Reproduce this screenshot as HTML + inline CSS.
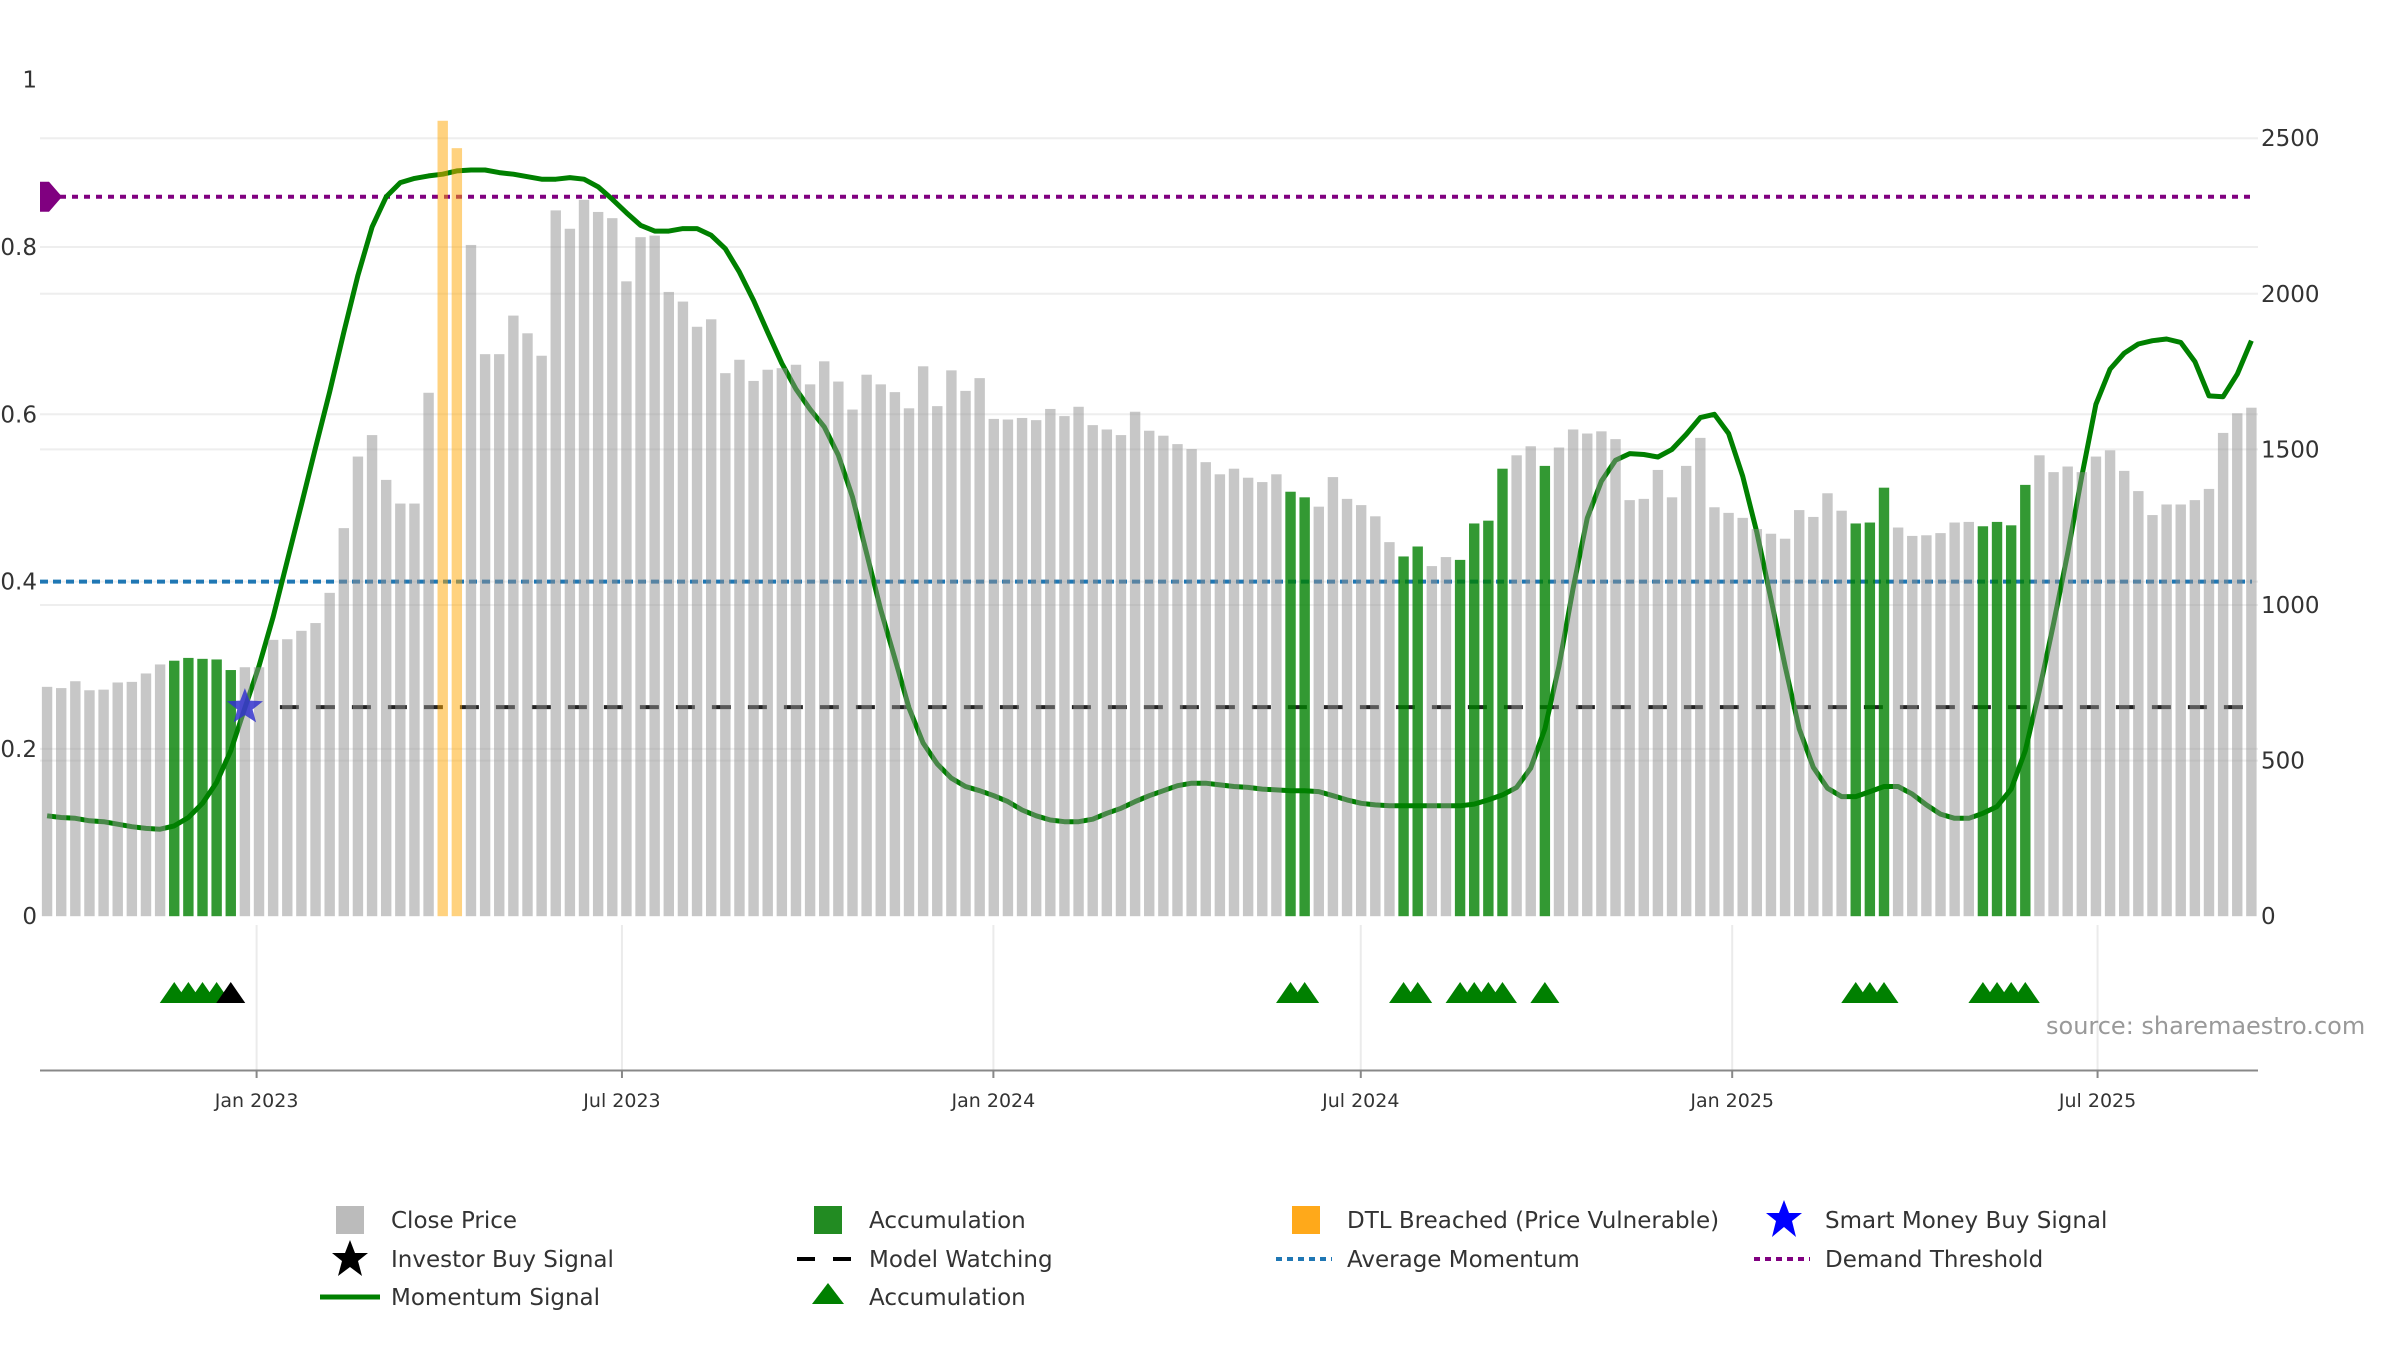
<!DOCTYPE html>
<html><head><meta charset="utf-8"><style>
html,body{margin:0;padding:0;background:#fff;}
svg{display:block;font-family:"DejaVu Sans","Liberation Sans",sans-serif;}
</style></head><body>
<svg id="chart" xmlns="http://www.w3.org/2000/svg" width="2400" height="1350" viewBox="0 0 2400 1350">
<g id="grid"></g>
<g id="refl"></g>
<g id="mom"></g>
<g id="bars"></g>
<g id="marks"></g>
<g id="axes"></g>
<text x="2046" y="1034" font-size="24" fill="#999">source: sharemaestro.com</text>
<g id="legend" font-size="23" fill="#333">
  <rect x="336" y="1206" width="28" height="28" fill="#bbb"/>
  <text x="391" y="1228">Close Price</text>
  <polygon points="350,1240 355,1253 368,1253 358,1261 362,1276 350,1267 338,1276 342,1261 332,1253 345,1253" fill="#000"/>
  <text x="391" y="1267">Investor Buy Signal</text>
  <line x1="320" y1="1297" x2="380" y2="1297" stroke="#008000" stroke-width="5"/>
  <text x="391" y="1305">Momentum Signal</text>
  <rect x="814" y="1206" width="28" height="28" fill="#228b22"/>
  <text x="869" y="1228">Accumulation</text>
  <line x1="797" y1="1259" x2="852" y2="1259" stroke="#000" stroke-width="4" stroke-dasharray="18,18"/>
  <text x="869" y="1267">Model Watching</text>
  <polygon points="828,1283 844,1304 812,1304" fill="#008000"/>
  <text x="869" y="1305">Accumulation</text>
  <rect x="1292" y="1206" width="28" height="28" fill="#ffa91a"/>
  <text x="1347" y="1228">DTL Breached (Price Vulnerable)</text>
  <line x1="1276" y1="1259" x2="1332" y2="1259" stroke="#1f77b4" stroke-width="4" stroke-dasharray="6,5"/>
  <text x="1347" y="1267">Average Momentum</text>
  <polygon points="1784,1200 1789,1213 1802,1213 1792,1221 1796,1237 1784,1227 1772,1237 1776,1221 1766,1213 1779,1213" fill="#0000ff"/>
  <text x="1825" y="1228">Smart Money Buy Signal</text>
  <line x1="1754" y1="1259" x2="1810" y2="1259" stroke="#800080" stroke-width="4" stroke-dasharray="6,5"/>
  <text x="1825" y="1267">Demand Threshold</text>
</g>
</svg>
<script>
const prices = [737,733,755,726,728,751,753,780,809,821,830,827,825,791,800,800,888,890,917,942,1039,1247,1477,1546,1402,1326,1326,1682,2556,2468,2157,1806,1806,1930,1873,1801,2268,2209,2302,2263,2243,2040,2182,2187,2006,1975,1894,1918,1745,1788,1720,1756,1761,1772,
1709,1783,1718,1628,1740,1709,1684,1632,1767,1639,1754,1688,1729,1598,1596,1601,1594,1630,1607,1637,1578,1564,1546,1621,1560,1544,1517,1501,1459,1420,1438,1409,1395,1420,1364,1346,1316,1411,1341,1321,1285,1202,1156,1188,1125,1154,1145,1262,1271,1438,1481,1510,1447,1506,1564,1551,1558,1533,
1337,1341,1434,1346,1447,1537,1314,1296,1280,1244,1229,1213,1305,1283,1359,1303,1262,1265,1377,1249,1222,1224,1231,1265,1267,1253,1267,1256,1386,1481,1427,1445,1427,1477,1497,1431,1366,1289,1323,1323,1337,1373,1553,1616,1634];
const momentum = [.120,.118,.117,.114,.113,.110,.107,.105,.104,.108,.118,.135,.160,.198,.249,.299,.358,.425,.492,.560,.627,.698,.766,.824,.860,.877,.882,.885,.887,.891,.892,.892,.889,.887,.884,.881,.881,.883,.881,.872,.857,.841,.826,.819,.819,.822,.822,.814,.798,.770,.736,.698,.661,.630,
.606,.585,.551,.501,.434,.366,.308,.249,.207,.182,.165,.155,.150,.144,.137,.127,.120,.115,.113,.113,.116,.123,.129,.137,.144,.150,.156,.159,.159,.157,.155,.154,.152,.151,.150,.150,.149,.144,.139,.135,.133,.132,.132,.132,.132,.132,.132,.134,.139,.145,.154,.177,.224,.299,.392,.476,.520,.545,
.553,.552,.549,.558,.576,.596,.600,.577,.526,.459,.379,.299,.224,.178,.153,.143,.143,.149,.155,.155,.146,.133,.122,.117,.117,.123,.131,.152,.198,.270,.350,.434,.526,.612,.654,.673,.684,.688,.690,.686,.663,.622,.621,.648,.688];
const accumulationWeeks = [10,11,12,13,14,89,90,97,98,101,102,103,104,107,129,130,131,138,139,140,141];
const dtlWeeks = [29,30];
const triangleGreenWeeks = [10,11,12,13,89,90,97,98,101,102,103,104,107,129,130,131,138,139,140,141];
const triangleBlackWeeks = [14];
const smartMoneyWeek = 15;
const smartMoneyValue = 0.25;
const demandThreshold = 0.86;
const averageMomentum = 0.4;
const modelWatching = 0.25;
const leftTicks = [0,0.2,0.4,0.6,0.8,1];
const leftTickLabels = ["0","0.2","0.4","0.6","0.8","1"];
const rightTicks = [0,500,1000,1500,2000,2500];
const dateTicks = ["2023-01-01","2023-07-01","2024-01-01","2024-07-01","2025-01-01","2025-07-01"];
const dateTickLabels = ["Jan 2023","Jul 2023","Jan 2024","Jul 2024","Jan 2025","Jul 2025"];
const firstWeekOffsetDays = -103.8;

const NS="http://www.w3.org/2000/svg";
const X0=40, X1=2258, Y0=916.2;
function xDay(d){return 256.6 + d*2.0186;}
function xWeek(w){return xDay(firstWeekOffsetDays + (w-1)*7);}
function xDate(s){const d=(Date.parse(s)-Date.parse("2023-01-01"))/86400000;return xDay(d);}
function yL(v){return Y0 - v*836.5;}
function yR(p){return Y0 - p*778/2500;}
function mk(tag,parent,attrs){const e=document.createElementNS(NS,tag);for(const k in attrs)e.setAttribute(k,attrs[k]);parent.appendChild(e);return e;}

const grid=document.getElementById('grid');
rightTicks.slice(1).forEach(t=>{const l=mk('line',grid,{x1:X0,x2:X1,y1:yR(t),y2:yR(t),stroke:'#eeeeee','stroke-width':2});

});
leftTicks.slice(1,5).forEach(t=>{const l=mk('line',grid,{x1:X0,x2:X1,y1:yL(t),y2:yL(t),stroke:'#eeeeee','stroke-width':2});

});
dateTicks.forEach(d=>{const l=mk('line',grid,{x1:xDate(d),x2:xDate(d),y1:925,y2:1070,stroke:'#ebebeb','stroke-width':2});

});

const refl=document.getElementById('refl');
let l1=mk('line',refl,{x1:X0+8,x2:X1-6,y1:yL(demandThreshold),y2:yL(demandThreshold),stroke:'#800080','stroke-width':4,'stroke-dasharray':'6,6'});


let l2=mk('line',refl,{x1:X0,x2:X1-6,y1:yL(averageMomentum),y2:yL(averageMomentum),stroke:'#1f77b4','stroke-width':4,'stroke-dasharray':'8,5'});


let l3=mk('line',refl,{x1:xWeek(smartMoneyWeek)+35,x2:X1-10,y1:yL(modelWatching),y2:yL(modelWatching),stroke:'#222','stroke-width':4,'stroke-dasharray':'19,17'});


let dm=mk('polygon',refl,{points:`${X0},${yL(demandThreshold)-15} ${X0+9},${yL(demandThreshold)-15} ${X0+22},${yL(demandThreshold)} ${X0+9},${yL(demandThreshold)+15} ${X0},${yL(demandThreshold)+15}`,fill:'#800080'});



const mom=document.getElementById('mom');
let pts=momentum.map((v,i)=>xWeek(i+1).toFixed(1)+','+yL(v).toFixed(1)).join(' ');
let ml=mk('polyline',mom,{points:pts,fill:'none',stroke:'#008000','stroke-width':5,'stroke-linejoin':'round'});



const bars=document.getElementById('bars');
prices.forEach((p,i)=>{const w=i+1;let fill='#8f8f8f',op=0.5,name='close-price-bar';
if(accumulationWeeks.includes(w)){fill='#008000';op=0.8;name='accumulation-bar';}
if(dtlWeeks.includes(w)){fill='#ffa500';op=0.5;name='dtl-breached-bar';}
const r=mk('rect',bars,{x:xWeek(w)-5.2,y:yR(p),width:10.4,height:Y0-yR(p),fill:fill,'fill-opacity':op});

});

const marks=document.getElementById('marks');
function tri(w,color,name){const cx=xWeek(w);const t=mk('polygon',marks,{points:`${cx},982 ${cx+14.5},1003 ${cx-14.5},1003`,fill:color});

}
triangleGreenWeeks.forEach(w=>tri(w,'#008000','accumulation-triangle'));
triangleBlackWeeks.forEach(w=>tri(w,'#000','investor-buy-triangle'));
function starPts(cx,cy,R,r){let s=[];for(let k=0;k<10;k++){const a=-Math.PI/2+k*Math.PI/5;const rr=k%2?r:R;s.push((cx+rr*Math.cos(a)).toFixed(1)+','+(cy+rr*Math.sin(a)).toFixed(1));}return s.join(' ');}
let st=mk('polygon',marks,{points:starPts(xWeek(smartMoneyWeek),yL(smartMoneyValue),19,8),fill:'#3333cc','fill-opacity':0.85});



const axes=document.getElementById('axes');
let ax=mk('line',axes,{x1:X0,x2:X1,y1:1070.5,y2:1070.5,stroke:'#888','stroke-width':2});


dateTicks.forEach((d,i)=>{const x=xDate(d);
const tk=mk('line',axes,{x1:x,x2:x,y1:1070,y2:1078,stroke:'#888','stroke-width':2});


const t=mk('text',axes,{x:x,y:1107,'font-size':19,fill:'#333','text-anchor':'middle'});t.textContent=dateTickLabels[i];

});
leftTicks.forEach((v,i)=>{const t=mk('text',axes,{x:37,y:yL(v)+8,'font-size':23,fill:'#333','text-anchor':'end'});t.textContent=leftTickLabels[i];

});
rightTicks.forEach(v=>{const t=mk('text',axes,{x:2261,y:yR(v)+8,'font-size':23,fill:'#333','text-anchor':'start'});t.textContent=String(v);

});
</script>
</body></html>
